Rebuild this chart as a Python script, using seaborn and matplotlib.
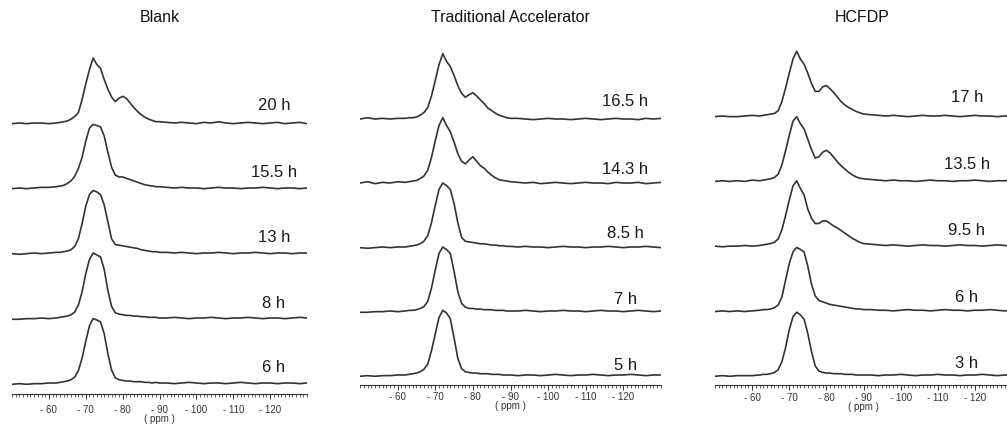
import matplotlib
matplotlib.use("Agg")
import matplotlib.pyplot as plt
import matplotlib.font_manager as fm
from matplotlib.ticker import FixedLocator, MultipleLocator
import numpy as np
import pandas as pd
import seaborn as sns

# ---------------------------------------------------------------- data
# chemical shift grid (ppm)
ppm = [-50, -52, -54, -56, -58, -60, -62,
       -63, -64, -65, -66, -67, -68, -69, -70, -71, -72, -73, -74, -75, -76,
       -77, -78, -79, -80, -81, -82, -83, -84, -85, -86, -87, -88, -89, -90,
       -92, -94, -96, -98, -100, -102, -104, -106, -108, -110, -112, -114,
       -116, -118, -120, -122, -124, -126, -128, -130]

tick_values = [-60, -70, -80, -90, -100, -110, -120]
tick_labels = ["- 60", "- 70", "- 80", "- 90", "- 100", "- 110", "- 120"]

titles = ["Blank", "Traditional Accelerator", "HCFDP"]

# hydration times, bottom trace first
blank_hours = ["6 h", "8 h", "13 h", "15.5 h", "20 h"]
accel_hours = ["5 h", "7 h", "8.5 h", "14.3 h", "16.5 h"]
hcfdp_hours = ["3 h", "6 h", "9.5 h", "13.5 h", "17 h"]

# normalised intensities on the ppm grid
blank_6h = [-0.02, -0.01, -0.02, -0.01, -0.01, 0.00, 0.00,
            0.01, 0.02, 0.03, 0.05, 0.09, 0.19, 0.38, 0.64, 0.88, 0.99, 0.97, 0.94, 0.76, 0.45,
            0.20, 0.08, 0.05, 0.04, 0.03, 0.03, 0.02, 0.02, 0.02, 0.01, 0.01, 0.00, 0.01, 0.00,
            0.00, -0.01, 0.00, 0.01, 0.00, -0.01, 0.00, 0.00, -0.01, 0.00, 0.01, 0.00,
            -0.01, 0.00, 0.00, -0.01, 0.00, 0.00, -0.01, 0.00]
blank_8h = [-0.02, -0.02, -0.01, -0.01, 0.00, -0.01, 0.00,
            0.01, 0.02, 0.03, 0.05, 0.09, 0.20, 0.40, 0.68, 0.90, 1.00, 0.97, 0.94, 0.75, 0.42,
            0.18, 0.08, 0.06, 0.05, 0.04, 0.04, 0.03, 0.03, 0.02, 0.02, 0.01, 0.01, 0.01, 0.00,
            0.00, 0.01, 0.00, -0.01, 0.00, 0.00, 0.01, 0.00, -0.01, 0.00, 0.00, 0.01,
            0.00, -0.01, 0.00, 0.00, -0.01, 0.00, 0.01, 0.00]
blank_13h = [-0.01, -0.02, -0.01, 0.00, -0.01, 0.00, 0.01,
             0.01, 0.02, 0.03, 0.05, 0.10, 0.22, 0.45, 0.72, 0.90, 0.96, 0.94, 0.90, 0.74, 0.48,
             0.22, 0.13, 0.12, 0.11, 0.10, 0.09, 0.08, 0.07, 0.05, 0.04, 0.03, 0.02, 0.02, 0.01,
             0.01, 0.00, 0.01, 0.00, -0.01, 0.00, 0.00, 0.01, 0.00, -0.01, 0.00, 0.00,
             0.01, 0.00, -0.01, 0.00, 0.00, -0.01, 0.00, 0.00]
blank_15h = [-0.01, 0.00, -0.01, 0.00, 0.01, 0.01, 0.02,
             0.03, 0.04, 0.07, 0.11, 0.18, 0.30, 0.47, 0.72, 0.92, 0.98, 0.96, 0.94, 0.80, 0.55,
             0.32, 0.20, 0.17, 0.17, 0.15, 0.13, 0.11, 0.09, 0.07, 0.05, 0.04, 0.03, 0.02, 0.02,
             0.01, 0.00, 0.01, 0.00, 0.00, -0.01, 0.00, 0.01, 0.00, 0.00, -0.01, 0.00,
             0.00, 0.01, 0.00, -0.01, 0.00, 0.00, -0.01, 0.00]
blank_20h = [-0.01, 0.00, -0.01, 0.00, 0.00, -0.01, 0.00,
             0.01, 0.02, 0.03, 0.06, 0.10, 0.16, 0.36, 0.60, 0.82, 1.00, 0.90, 0.84, 0.67, 0.52,
             0.40, 0.33, 0.38, 0.41, 0.38, 0.31, 0.24, 0.18, 0.13, 0.09, 0.06, 0.04, 0.02, 0.02,
             0.01, 0.00, 0.01, 0.00, -0.01, 0.01, 0.00, 0.02, 0.00, -0.01, 0.00, 0.01,
             0.00, -0.01, 0.00, 0.01, -0.01, 0.00, 0.01, -0.01]

accel_5h = [-0.02, -0.01, -0.02, -0.01, -0.01, 0.00, 0.00,
            0.01, 0.02, 0.03, 0.05, 0.09, 0.17, 0.38, 0.64, 0.90, 1.01, 0.97, 0.88, 0.58, 0.26,
            0.10, 0.05, 0.04, 0.03, 0.03, 0.02, 0.02, 0.02, 0.01, 0.01, 0.01, 0.00, 0.00, 0.00,
            -0.01, 0.00, 0.00, -0.01, 0.00, 0.01, 0.00, -0.01, 0.00, 0.00, 0.01, 0.00,
            -0.01, 0.00, 0.00, 0.01, 0.00, -0.01, 0.00, 0.00]
accel_7h = [-0.02, -0.02, -0.01, -0.01, 0.00, -0.01, 0.00,
            0.01, 0.01, 0.02, 0.04, 0.07, 0.15, 0.36, 0.64, 0.90, 1.00, 0.96, 0.90, 0.62, 0.30,
            0.12, 0.06, 0.04, 0.04, 0.03, 0.03, 0.02, 0.02, 0.02, 0.01, 0.01, 0.01, 0.00, 0.00,
            0.00, 0.01, 0.00, -0.01, 0.00, 0.00, 0.01, 0.00, 0.00, -0.01, 0.00, 0.01,
            0.00, 0.00, -0.01, 0.00, 0.01, 0.00, -0.01, 0.00]
accel_8h = [-0.01, -0.02, -0.01, 0.00, -0.01, 0.00, 0.00,
            0.01, 0.02, 0.03, 0.05, 0.09, 0.18, 0.38, 0.65, 0.90, 1.00, 0.96, 0.90, 0.68, 0.38,
            0.15, 0.09, 0.08, 0.07, 0.06, 0.05, 0.05, 0.04, 0.03, 0.03, 0.02, 0.02, 0.01, 0.01,
            0.00, 0.01, 0.00, 0.00, -0.01, 0.00, 0.01, 0.00, 0.00, -0.01, 0.00, 0.00,
            0.01, 0.00, -0.01, 0.00, 0.00, 0.01, 0.00, -0.01]
accel_14h = [0.00, 0.02, -0.01, 0.01, 0.00, 0.02, 0.01,
             0.02, 0.03, 0.04, 0.07, 0.11, 0.20, 0.40, 0.66, 0.90, 1.02, 0.90, 0.80, 0.64, 0.46,
             0.34, 0.30, 0.36, 0.41, 0.34, 0.27, 0.23, 0.17, 0.12, 0.08, 0.05, 0.04, 0.03, 0.02,
             0.01, 0.00, 0.01, -0.01, 0.00, 0.01, 0.00, -0.01, 0.00, 0.01, 0.00, 0.00,
             -0.01, 0.01, 0.00, 0.00, 0.01, -0.01, 0.00, 0.01]
accel_16h = [0.00, 0.02, 0.00, 0.01, 0.00, 0.01, 0.01,
             0.02, 0.02, 0.03, 0.06, 0.10, 0.18, 0.36, 0.60, 0.85, 1.02, 0.90, 0.82, 0.68, 0.52,
             0.40, 0.34, 0.38, 0.41, 0.36, 0.30, 0.24, 0.17, 0.13, 0.09, 0.06, 0.04, 0.02, 0.01,
             0.01, 0.00, -0.01, 0.00, 0.01, 0.00, 0.00, -0.01, 0.00, 0.01, 0.00, -0.01,
             0.00, 0.01, 0.00, 0.00, -0.01, 0.01, 0.00, 0.01]

hcfdp_3h = [-0.02, -0.01, -0.02, -0.01, -0.01, -0.01, 0.00,
            0.01, 0.01, 0.02, 0.04, 0.08, 0.20, 0.42, 0.70, 0.90, 0.97, 0.93, 0.86, 0.64, 0.36,
            0.14, 0.06, 0.04, 0.03, 0.03, 0.02, 0.02, 0.02, 0.01, 0.01, 0.01, 0.00, 0.00, 0.00,
            0.00, -0.01, 0.00, 0.00, 0.01, 0.00, -0.01, 0.00, 0.00, 0.01, 0.00, 0.00,
            -0.01, 0.00, 0.00, 0.01, 0.00, -0.01, 0.00, 0.00]
hcfdp_6h = [-0.02, -0.01, -0.02, -0.01, -0.02, -0.01, 0.00,
            0.01, 0.01, 0.02, 0.04, 0.08, 0.20, 0.46, 0.72, 0.90, 0.97, 0.94, 0.90, 0.68, 0.40,
            0.22, 0.15, 0.13, 0.11, 0.09, 0.08, 0.07, 0.06, 0.05, 0.04, 0.03, 0.02, 0.02, 0.01,
            0.01, 0.00, 0.00, -0.01, 0.00, 0.01, 0.00, 0.00, -0.01, 0.00, 0.01, 0.00,
            0.00, -0.01, 0.00, 0.00, 0.01, 0.00, -0.01, 0.00]
hcfdp_9h = [-0.01, -0.02, -0.01, -0.01, 0.00, -0.01, 0.00,
            0.01, 0.02, 0.03, 0.05, 0.10, 0.24, 0.46, 0.70, 0.92, 1.00, 0.88, 0.78, 0.56, 0.42,
            0.34, 0.34, 0.38, 0.38, 0.34, 0.30, 0.27, 0.23, 0.19, 0.15, 0.11, 0.08, 0.05, 0.03,
            0.02, 0.01, 0.00, 0.01, 0.00, -0.01, 0.00, 0.01, 0.00, 0.00, -0.01, 0.00,
            0.01, 0.00, 0.00, -0.01, 0.00, 0.01, 0.00, -0.01]
hcfdp_13h = [-0.01, 0.00, -0.01, 0.00, -0.01, 0.01, 0.00,
             0.01, 0.02, 0.03, 0.05, 0.10, 0.24, 0.46, 0.70, 0.92, 0.99, 0.88, 0.80, 0.64, 0.48,
             0.35, 0.37, 0.44, 0.47, 0.43, 0.36, 0.29, 0.23, 0.18, 0.13, 0.09, 0.06, 0.04, 0.03,
             0.02, 0.01, 0.00, 0.01, 0.00, 0.00, -0.01, 0.00, 0.01, 0.00, 0.00, -0.01,
             0.00, 0.00, 0.01, 0.00, -0.01, 0.00, 0.00, 0.01]
hcfdp_17h = [-0.01, 0.00, -0.01, -0.01, 0.00, 0.01, 0.00,
             0.01, 0.02, 0.03, 0.04, 0.08, 0.22, 0.43, 0.66, 0.88, 1.00, 0.88, 0.80, 0.66, 0.50,
             0.38, 0.38, 0.45, 0.47, 0.42, 0.36, 0.29, 0.22, 0.17, 0.13, 0.10, 0.07, 0.05, 0.03,
             0.02, 0.01, 0.00, 0.01, 0.00, -0.01, 0.00, 0.01, 0.00, 0.00, 0.01, 0.00,
             -0.01, 0.00, 0.01, 0.00, 0.00, -0.01, 0.00, 0.00]

blank_spectra = [blank_6h, blank_8h, blank_13h, blank_15h, blank_20h]
accel_spectra = [accel_5h, accel_7h, accel_8h, accel_14h, accel_16h]
hcfdp_spectra = [hcfdp_3h, hcfdp_6h, hcfdp_9h, hcfdp_13h, hcfdp_17h]

# ---------------------------------------------------------------- style
sns.set_theme(style="white")
plt.rcParams["font.family"] = ["Liberation Sans", "DejaVu Sans"]
installed = {f.name for f in fm.fontManager.ttflist}
tick_family = "Liberation Sans Narrow" if "Liberation Sans Narrow" in installed else "Liberation Sans"

LINE = "#333333"
W, H = 1007, 425
fig = plt.figure(figsize=(W / 100, H / 100), dpi=100)

# layout of the three stacked-spectra panels, in pixels
layout = [
    dict(x0=12, x1=307, spine=394, unit=65.0, gap=11, title_x=160,
         label_ppm=-121.0, lifts=[15, 15, 15, 15, 18], pad=4.0, ppm_y=419.5),
    dict(x0=360, x1=661, spine=385, unit=64.0, gap=10, title_x=510,
         label_ppm=-120.5, lifts=[10, 11, 13, 13, 18], pad=1.5, ppm_y=406),
    dict(x0=715, x1=1012, spine=385, unit=64.75, gap=10, title_x=862,
         label_ppm=-117.8, lifts=[12, 13, 15, 16, 18], pad=2.5, ppm_y=407.5),
]
TOP = 30

groups = [(blank_hours, blank_spectra), (accel_hours, accel_spectra), (hcfdp_hours, hcfdp_spectra)]

for title, (hours, spectra), lay in zip(titles, groups, layout):
    ax = fig.add_axes([lay["x0"] / W, 1 - lay["spine"] / H,
                       (lay["x1"] - lay["x0"]) / W, (lay["spine"] - TOP) / H])

    frames = []
    for i, (h, vals) in enumerate(zip(hours, spectra)):
        frames.append(pd.DataFrame({"ppm": ppm,
                                    "y": np.asarray(vals) + i,
                                    "trace": h}))
    df = pd.concat(frames, ignore_index=True)

    sns.lineplot(data=df, x="ppm", y="y", units="trace", estimator=None,
                 sort=False, color=LINE, lw=1.2, ax=ax, legend=False)

    u = lay["unit"]
    ybot = -lay["gap"] / u
    ax.set_xlim(-50, -130)
    ax.set_ylim(ybot, ybot + (lay["spine"] - TOP) / u)

    for i, h in enumerate(hours):
        ax.text(lay["label_ppm"], i + lay["lifts"][i] / u, h, ha="center",
                va="center", fontsize=12, color="#1a1a1a")

    for s in ("left", "right", "top"):
        ax.spines[s].set_visible(False)
    ax.spines["bottom"].set_color("#333333")
    ax.spines["bottom"].set_linewidth(0.8)
    ax.set_yticks([])
    ax.set_xlabel("")
    ax.set_ylabel("")
    ax.xaxis.set_major_locator(FixedLocator(tick_values))
    ax.set_xticklabels(tick_labels, family=tick_family)
    ax.xaxis.set_minor_locator(MultipleLocator(1))
    ax.tick_params(axis="x", which="major", direction="out", length=3.6,
                   width=0.7, color="#333333", pad=lay["pad"], labelsize=7,
                   labelcolor="#333333", bottom=True)
    ax.tick_params(axis="x", which="minor", direction="out", length=2.4,
                   width=0.55, color="#333333", bottom=True)

    xmid = (lay["x0"] + lay["x1"]) / 2
    fig.text(xmid / W, 1 - lay["ppm_y"] / H, "( ppm )", ha="center", va="center",
             fontsize=7, family=tick_family, color="#333333")
    fig.text(lay["title_x"] / W, 1 - 18 / H, title, ha="center", va="center",
             fontsize=11.5, color="#111111")

fig.savefig("out.png", dpi=100)
